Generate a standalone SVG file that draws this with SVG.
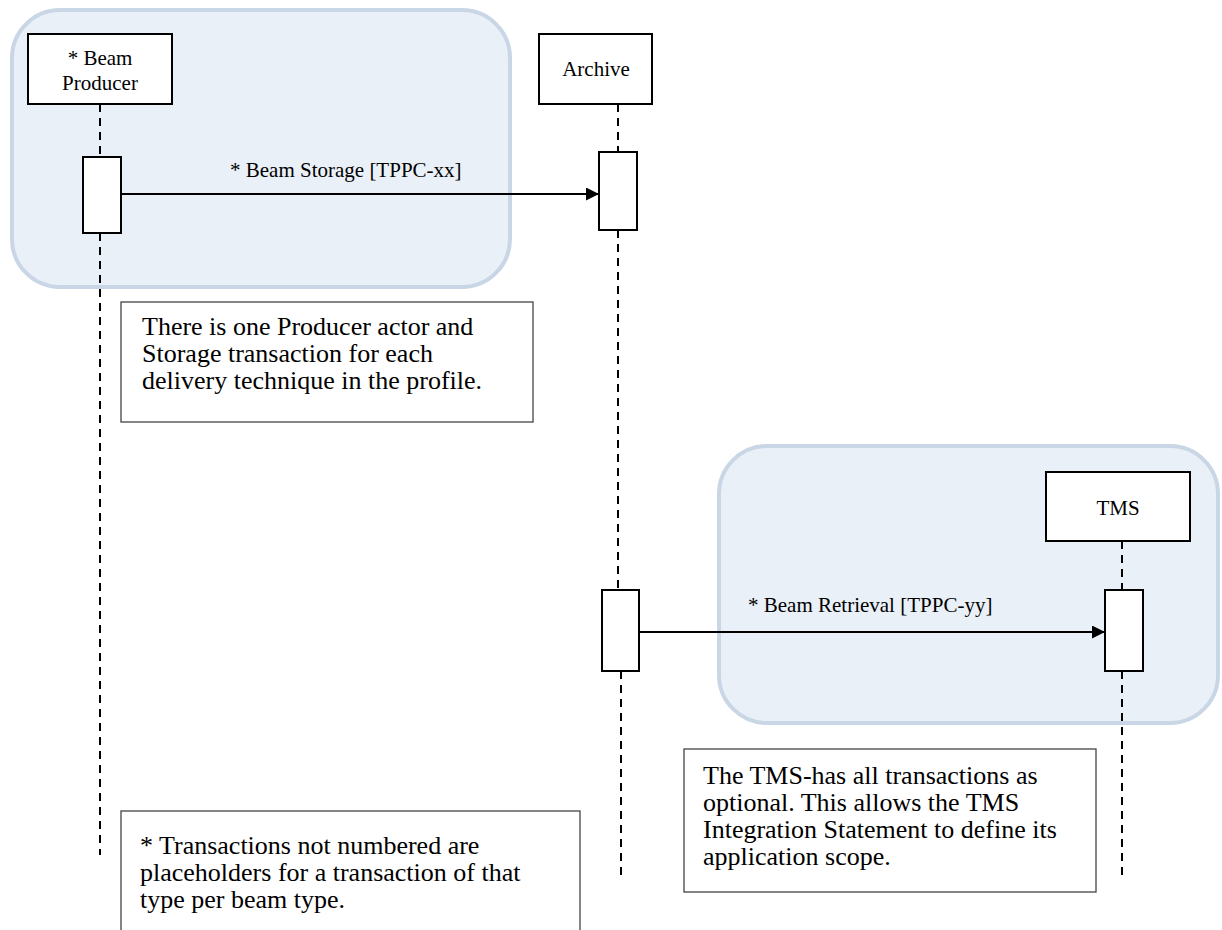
<svg xmlns="http://www.w3.org/2000/svg" width="1222" height="930" viewBox="0 0 1222 930" font-family="Liberation Serif, DejaVu Serif, Times New Roman, serif">
<defs>
<style>
.grp{fill:#eaf0f8;stroke:#c8d6e5;stroke-width:4}
.box{fill:#fff;stroke:#000;stroke-width:2}
.act{fill:#fff;stroke:#000;stroke-width:2}
.note{fill:#fff;stroke:#444;stroke-width:1.3}
.life{stroke:#000;stroke-width:2;stroke-dasharray:8,6;fill:none}
.msg{stroke:#000;stroke-width:2;fill:none}
.t{font-size:21px;fill:#000}
.n{font-size:26px;fill:#000}
</style>
<marker id="ah" viewBox="0 0 10 10" refX="10" refY="5" markerWidth="13" markerHeight="13" markerUnits="userSpaceOnUse" orient="auto">
<path d="M0,0 L10,5 L0,10 z" fill="#000"/>
</marker>
</defs>
<rect width="1222" height="930" fill="#fff"/>
<g id="groups">
<rect class="grp" x="12" y="10" width="498" height="277" rx="48"/>
<rect class="grp" x="719" y="446" width="499" height="277" rx="48"/>
</g>
<g id="lifelines">
<path class="life" d="M100,104 V157 M100,233 V855"/>
<path class="life" d="M618,104 V152 M618,230 V590 M621,671 V878"/>
<path class="life" d="M1122,541 V590 M1122,671 V880"/>
</g>
<g id="connectors">
<line class="msg" x1="121" y1="194" x2="599" y2="194" marker-end="url(#ah)"/>
<line class="msg" x1="638" y1="632" x2="1105" y2="632" marker-end="url(#ah)"/>
<text class="t" x="230" y="177">* Beam Storage [TPPC-xx]</text>
<text class="t" x="748" y="612">* Beam Retrieval [TPPC-yy]</text>
</g>
<g id="beam-producer">
<rect class="box" x="28" y="34" width="144" height="70"/>
<text class="t" x="100" y="65" text-anchor="middle">* Beam</text>
<text class="t" x="100" y="90" text-anchor="middle">Producer</text>
<rect class="act" x="83" y="157" width="38" height="76"/>
</g>
<g id="archive">
<rect class="box" x="539" y="34" width="113" height="70"/>
<text class="t" x="596" y="76" text-anchor="middle">Archive</text>
<rect class="act" x="599" y="152" width="38" height="78"/>
<rect class="act" x="602" y="590" width="37" height="81"/>
</g>
<g id="tms">
<rect class="box" x="1046" y="472" width="144" height="69"/>
<text class="t" x="1118" y="515" text-anchor="middle">TMS</text>
<rect class="act" x="1105" y="590" width="38" height="81"/>
</g>
<g id="note-producer">
<rect class="note" x="121" y="302" width="412" height="120"/>
<text class="n" x="142" y="335">There is one Producer actor and</text>
<text class="n" x="142" y="362">Storage transaction for each</text>
<text class="n" x="142" y="389">delivery technique in the profile.</text>
</g>
<g id="note-transactions">
<rect class="note" x="121" y="811" width="459" height="130"/>
<text class="n" x="140" y="854">* Transactions not numbered are</text>
<text class="n" x="140" y="881">placeholders for a transaction of that</text>
<text class="n" x="140" y="908">type per beam type.</text>
</g>
<g id="note-tms">
<rect class="note" x="684" y="749" width="412" height="143"/>
<text class="n" x="703" y="784">The TMS-has all transactions as</text>
<text class="n" x="703" y="811">optional. This allows the TMS</text>
<text class="n" x="703" y="838">Integration Statement to define its</text>
<text class="n" x="703" y="865">application scope.</text>
</g>
</svg>
